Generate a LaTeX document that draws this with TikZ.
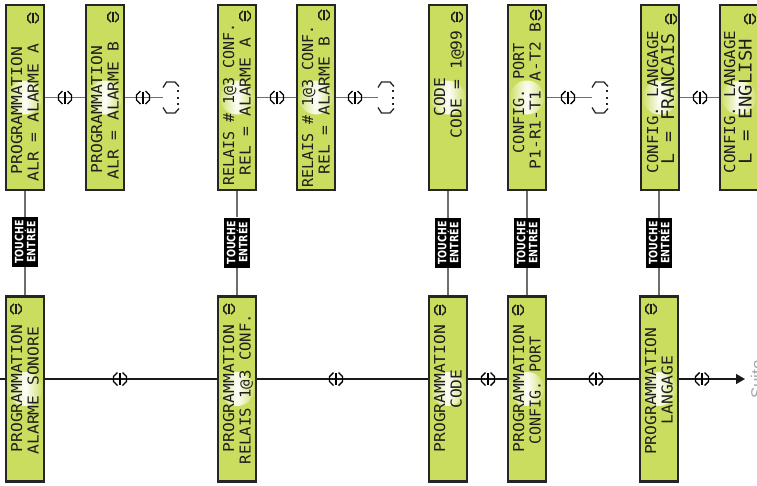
\documentclass[tikz,border=0pt]{standalone}
\usepackage{fontspec}
\usetikzlibrary{arrows.meta,calc}
\newfontfamily\lcdfont{DejaVu Sans Mono}[FakeStretch=1.085]
\newfontfamily\touchefont{DejaVu Sans Bold}[FakeStretch=0.82]
\newfontfamily\suitefont{Liberation Sans}
\definecolor{lcdgreen}{RGB}{203,221,94}
\definecolor{lcdedge}{RGB}{38,38,38}
\definecolor{lcdink}{RGB}{30,30,30}
\definecolor{linegray}{RGB}{110,110,110}
\tikzset{
  updownsym/.pic={
    \draw[line width=1.4pt] (-2.5,-6.5) -- (-6.5,-2.5) -- (-6.5,2.5) -- (-2.5,6.5);
    \draw[line width=1.4pt] (2.5,-6.5) -- (6.5,-2.5) -- (6.5,2.5) -- (2.5,6.5);
    \draw[line width=1.4pt] (0,-6) -- (0,6);
  },
  moresym/.pic={
    \draw[line width=1.3pt, draw=black!85] (0,-10) -- (3.5,-15.5) -- (12,-15.5) -- (16,-11);
    \draw[line width=1.3pt, draw=black!85] (0,10) -- (3.5,15.5) -- (12,15.5) -- (16,11);
    \fill[black!85] (13.5,-7.5) rectangle (16,-5.5);
    \fill[black!85] (13.5,-1) rectangle (16,1);
    \fill[black!85] (13.5,5.5) rectangle (16,7.5);
  }
}
\begin{document}
\begin{tikzpicture}[x=1pt,y=-1pt,
  lcd/.style={draw=lcdedge, line width=2.2pt, fill=lcdgreen, minimum width=37.5pt,
    minimum height=185pt, inner sep=0pt,
    path picture={\shade[inner color=white, outer color=lcdgreen]
      (path picture bounding box.center) circle (17pt);}},
  txt/.style={rotate=90, anchor=base west, inner sep=0pt, text=lcdink,
    font=\lcdfont\fontsize{15}{15}\selectfont},
  bigtxt/.style={txt, font=\lcdfont\fontsize{17.5}{17.5}\selectfont},
  ctxt/.style={txt, anchor=base},
  touche/.style={rotate=90, fill=black, text=white,
    font=\touchefont\fontsize{11.5}{12}\selectfont,
    minimum width=50pt, minimum height=26pt, inner sep=0pt, align=center},
  conn/.style={draw=linegray, line width=1.4pt},
  mainl/.style={draw=black!90, line width=1.3pt},
  lcdsym/.style={scale=0.8, lcdink},
]
\useasboundingbox (0,0) rectangle (757,485);

% ---- top row displays
\node[lcd] (A1) at (25,97.5) {};
\node[lcd] (A2) at (105,97.5) {};
\node[lcd] (B1) at (237,97.5) {};
\node[lcd] (B2) at (316,97.5) {};
\node[lcd] (C1) at (448,97.5) {};
\node[lcd] (C2) at (527,97.5) {};
\node[lcd] (D1) at (660,97.5) {};
\node[lcd] (D2) at (739,97.5) {};
% ---- bottom row displays
\node[lcd] (E1) at (25,389) {};
\node[lcd] (E2) at (237,389) {};
\node[lcd] (E3) at (448,389) {};
\node[lcd] (E4) at (527,389) {};
\node[lcd] (E5) at (659,389) {};

% ---- texts top row
\node[txt] (A1a) at (22,174.5) {PROGRAMMATION};
\node[txt] (A1b) at (38.5,181.5) {ALR = ALARME A};
\pic[lcdsym] at (33,18) {updownsym};
\node[txt] (A2a) at (102,173.5) {PROGRAMMATION};
\node[txt] (A2b) at (118.5,179.5) {ALR = ALARME B};
\pic[lcdsym] at (113,17) {updownsym};
\node[txt, xscale=0.92] (B1a) at (234,185.5) {RELAIS \# 1@3 CONF.};
\node[txt] (B1b) at (250.5,175.5) {REL = ALARME A};
\pic[lcdsym] at (245,16) {updownsym};
\node[txt, xscale=0.92] (B2a) at (313,187.5) {RELAIS \# 1@3 CONF.};
\node[txt] (B2b) at (329.5,174.5) {REL = ALARME B};
\pic[lcdsym] at (324,15) {updownsym};
\node[ctxt] (C1a) at (445,97) {CODE};
\node[txt] (C1b) at (461.5,138.5) {CODE = 1@99};
\pic[lcdsym] at (457,17) {updownsym};
\node[txt, xscale=0.94] (C2a) at (524,153.5) {CONFIG. PORT};
\node[txt] (C2b) at (540.5,169.5) {P1-R1-T1 A-T2 B};
\pic[lcdsym] at (536,15) {updownsym};
\node[txt, xscale=0.97] (D1a) at (658,173.5) {CONFIG. LANGAGE};
\node[bigtxt, xscale=0.96] (D1b) at (674,165) {L = FRANCAIS};
\pic[lcdsym] at (671,19) {updownsym};
\node[txt, xscale=0.97] (D2a) at (735,173.5) {CONFIG. LANGAGE};
\node[bigtxt] (D2b) at (751.5,165) {L = ENGLISH};
\pic[lcdsym] at (750,19) {updownsym};

% ---- texts bottom row
\node[txt] (E1a) at (22,452.5) {PROGRAMMATION};
\node[txt] (E1b) at (38.5,454.5) {ALARME SONORE};
\pic[lcdsym] at (16,309) {updownsym};
\node[txt] (E2a) at (234,452.5) {PROGRAMMATION};
\node[txt, xscale=0.96] (E2b) at (250.5,464.5) {RELAIS 1@3 CONF.};
\pic[lcdsym] at (229,309) {updownsym};
\node[txt] (E3a) at (445,452.5) {PROGRAMMATION};
\node[ctxt] (E3b) at (461.5,389) {CODE};
\pic[lcdsym] at (440,310) {updownsym};
\node[txt] (E4a) at (524,452.5) {PROGRAMMATION};
\node[txt, xscale=0.92] (E4b) at (540.5,444.5) {CONFIG. PORT};
\pic[lcdsym] at (518,310) {updownsym};
\node[txt] (E5a) at (656,455) {PROGRAMMATION};
\node[ctxt] (E5b) at (672.5,390) {LANGAGE};
\pic[lcdsym] at (651,309) {updownsym};

% ---- TOUCHE ENTREE keys
\node[touche] (T1) at (25,242) {TOUCHE\\ENTRÉE};
\node[touche] (T2) at (237,242.5) {TOUCHE\\ENTRÉE};
\node[touche] (T3) at (448,243) {TOUCHE\\ENTRÉE};
\node[touche] (T4) at (527,243) {TOUCHE\\ENTRÉE};
\node[touche] (T5) at (659,243) {TOUCHE\\ENTRÉE};

\foreach \u/\t/\d in {A1/T1/E1, B1/T2/E2, C1/T3/E3, C2/T4/E4}{
  \draw[conn] (\u.south) -- (\t.east);
  \draw[conn] (\t.west) -- (\d.north);
}
\draw[conn] (D1.south -| T5) -- (T5.east);
\draw[conn] (T5.west) -- (E5.north);

% ---- top row horizontal connectors
\coordinate (dA) at (163,97.5);
\coordinate (dB) at (378,97.5);
\coordinate (dC) at (592,97.5);
\draw[conn] (A1.east) -- (A2.west);
\draw[conn] (A2.east) -- (dA);
\draw[conn] (B1.east) -- (B2.west);
\draw[conn] (B2.east) -- (dB);
\draw[conn] (C2.east) -- (dC);
\draw[conn] (D1.east) -- (D2.west);
\pic at (dA) {moresym};
\pic at (dB) {moresym};
\pic at (dC) {moresym};
\foreach \x in {65,143,277,355,568,700}{ \pic at (\x,97.5) {updownsym}; }

% ---- main line
\coordinate (mS) at (0,379);
\coordinate (mE) at (745,379);
\draw[mainl] (mS) -- (mS -| E1.west)
  (mS -| E1.east) -- (mS -| E2.west)
  (mS -| E2.east) -- (mS -| E3.west)
  (mS -| E3.east) -- (mS -| E4.west)
  (mS -| E4.east) -- (mS -| E5.west);
\draw[mainl, -{Triangle[length=9pt,width=10pt]}] (mS -| E5.east) -- (mE);
\foreach \x in {120,336,488,596,702}{ \pic at (\x,379) {updownsym}; }

\node[rotate=90, anchor=base west, inner sep=0pt, text=black!35,
  font=\suitefont\fontsize{17}{17}\selectfont] (suite) at (763,399) {Suite};
\end{tikzpicture}
\end{document}
